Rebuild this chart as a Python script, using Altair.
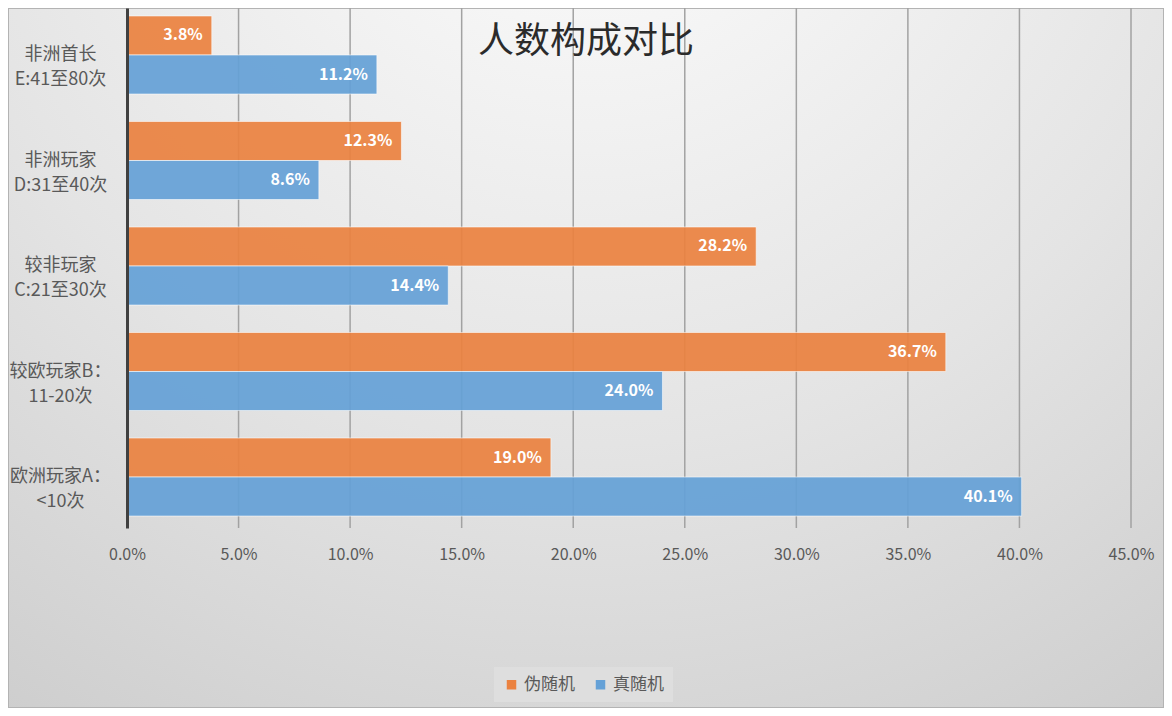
import altair as alt
import pandas as pd

categories = ["非洲首长\nE:41至80次", "非洲玩家\nD:31至40次", "较非玩家\nC:21至30次",
              "较欧玩家B：\n11-20次", "欧洲玩家A：\n<10次"]
series = ["伪随机", "真随机"]
pseudo_vals = [3.8, 12.3, 28.2, 36.7, 19.0]
true_vals = [11.2, 8.6, 14.4, 24.0, 40.1]
x_ticks = [0.0, 0.05, 0.10, 0.15, 0.20, 0.25, 0.30, 0.35, 0.40, 0.45]
colors = ["#EB8240", "#65A1D7"]

rows = []
for c, p, t in zip(categories, pseudo_vals, true_vals):
    rows.append({"cat": c, "series": series[0], "value": p / 100})
    rows.append({"cat": c, "series": series[1], "value": t / 100})
df = pd.DataFrame(rows)
ticks_df = pd.DataFrame({"value": x_ticks})

W, H = 1004, 520
FONT = "Noto Sans CJK SC"

bg = alt.Chart(pd.DataFrame({"k": [0]})).mark_rect(
    fill=alt.RadialGradient(
        gradient="radial", x1=0.5, y1=0.0, r1=0.0, x2=0.5, y2=0.0, r2=1.15,
        stops=[alt.GradientStop(offset=0, color="#ffffff"),
               alt.GradientStop(offset=0.5, color="#e4e4e4"),
               alt.GradientStop(offset=1, color="#c2c2c2")]),
    stroke="#b3b3b3", strokeWidth=2,
).encode(x=alt.value(-119), x2=alt.value(1037), y=alt.value(0), y2=alt.value(700))

x_scale = alt.Scale(domain=[0, 0.45], nice=False)
x_enc = alt.X("value:Q", scale=x_scale,
              axis=alt.Axis(values=x_ticks, format=".1%", title=None, grid=False,
                            domain=False, ticks=False, labelFontSize=16,
                            labelFlush=False, labelColor="#595959", labelPadding=18,
                            labelFont=FONT, zindex=1))
y_enc = alt.Y("cat:N", sort=categories,
              scale=alt.Scale(domain=categories, paddingInner=0.26,
                              paddingOuter=0.0943, align=0.4),
              axis=alt.Axis(title=None, labelExpr="split(datum.label, '\\n')",
                            labelAlign="center", labelPadding=67, labelFontSize=18,
                            labelColor="#595959", labelLineHeight=25, ticks=False,
                            domain=True, domainColor="#404040", domainWidth=3,
                            grid=False, labelFont=FONT, zindex=1))
yoff_enc = alt.YOffset("series:N", sort=series,
                       scale=alt.Scale(domain=series, paddingInner=0, paddingOuter=0))

grid = alt.Chart(ticks_df).mark_rule(color="#a2a2a2", strokeWidth=1.5).encode(
    x=alt.X("value:Q", scale=x_scale))

base = alt.Chart(df)
bars = base.mark_bar(opacity=0.92, stroke="white", strokeWidth=1, strokeOpacity=0.6).encode(
    x=x_enc, y=y_enc, yOffset=yoff_enc,
    color=alt.Color("series:N", scale=alt.Scale(domain=series, range=colors),
                    legend=alt.Legend(orient="none", legendX=367, legendY=659,
                                      direction="horizontal", title=None,
                                      symbolType="square", symbolSize=90,
                                      symbolStrokeWidth=0, symbolOpacity=1,
                                      labelFontSize=17, labelColor="#595959",
                                      labelFont=FONT, fillColor="#dedede",
                                      padding=9, columnPadding=17)),
)
labels = base.mark_text(align="right", baseline="middle", dx=-9, color="white",
                        fontWeight="bold", fontSize=16, font=FONT).encode(
    x=alt.X("value:Q"), y=alt.Y("cat:N", sort=categories), yOffset=yoff_enc,
    text=alt.Text("value:Q", format=".1%"),
)

chart = alt.layer(bg, grid, bars, labels).properties(
    width=W, height=H,
    padding={"left": 119, "top": 0, "right": 33, "bottom": 180},
    autosize=alt.AutoSizeParams(type="none"),
    title=alt.Title("人数构成对比", fontSize=36, font=FONT, fontWeight="normal",
                    color="#2b2b2b", anchor="middle", frame="bounds", offset=0, dy=54),
    background="#ffffff",
).configure_view(stroke=None)

chart.save("out.html", embed_options={"renderer": "svg", "actions": False})
